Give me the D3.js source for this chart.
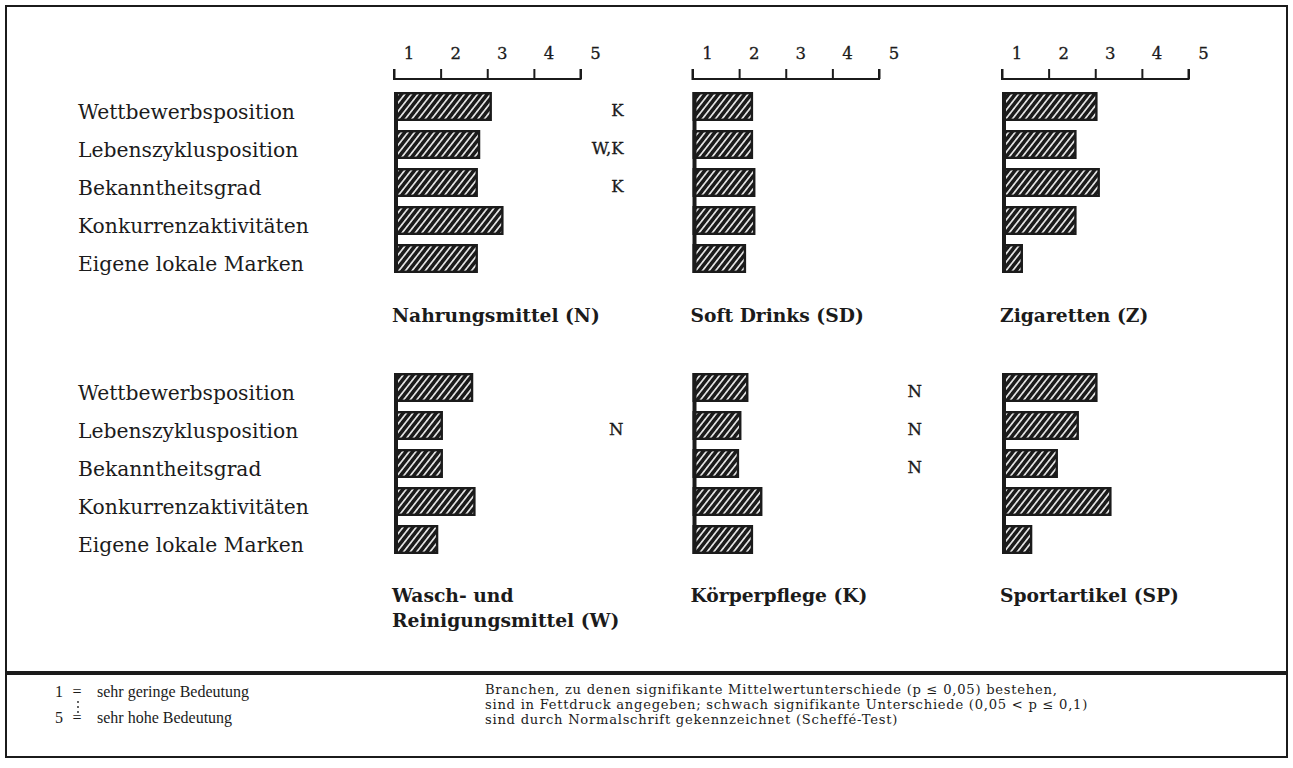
<!DOCTYPE html>
<html><head><meta charset="utf-8">
<script src="https://cdn.jsdelivr.net/npm/d3@7"></script>
<style>body{margin:0;background:#fff}svg{display:block}</style>
</head><body><svg id="c" width="1293" height="768"></svg>
<script>
const categories = ["Wettbewerbsposition","Lebenszyklusposition","Bekanntheitsgrad","Konkurrenzaktivitäten","Eigene lokale Marken"];
const tickValues = [1,2,3,4,5];
const tickLabels = ["1","2","3","4","5"];
const panelTitles = [["Nahrungsmittel (N)"],["Soft Drinks (SD)"],["Zigaretten (Z)"],["Wasch- und","Reinigungsmittel (W)"],["Körperpflege (K)"],["Sportartikel (SP)"]];
const valuesN  = [3.1, 2.85, 2.8, 3.35, 2.8];
const valuesSD = [2.3, 2.3, 2.35, 2.35, 2.15];
const valuesZ  = [3.05, 2.6, 3.1, 2.6, 1.45];
const valuesW  = [2.7, 2.05, 2.05, 2.75, 1.95];
const valuesK  = [2.2, 2.05, 2.0, 2.5, 2.3];
const valuesSP = [3.05, 2.65, 2.2, 3.35, 1.65];
const signifN  = ["K","W,K","K","",""];
const signifSD = ["","","","",""];
const signifZ  = ["","","","",""];
const signifW  = ["","N","","",""];
const signifK  = ["N","N","N","",""];
const signifSP = ["","","","",""];
const legendLeft = ["1  =  sehr geringe Bedeutung","5  =  sehr hohe Bedeutung"];
const legendRight = ["Branchen, zu denen signifikante Mittelwertunterschiede (p ≤ 0,05) bestehen,",
  "sind in Fettdruck angegeben; schwach signifikante Unterschiede (0,05 < p ≤ 0,1)",
  "sind durch Normalschrift gekennzeichnet (Scheffé-Test)"];

const panels = [
  {vals: valuesN, sig: signifN, title: panelTitles[0], col:0, row:0},
  {vals: valuesSD, sig: signifSD, title: panelTitles[1], col:1, row:0},
  {vals: valuesZ, sig: signifZ, title: panelTitles[2], col:2, row:0},
  {vals: valuesW, sig: signifW, title: panelTitles[3], col:0, row:1},
  {vals: valuesK, sig: signifK, title: panelTitles[4], col:1, row:1},
  {vals: valuesSP, sig: signifSP, title: panelTitles[5], col:2, row:1}
];

const ink = "#1b1b1b";
const svg = d3.select("#c");
const serif = "'DejaVu Serif', serif";

// hatch pattern
const defs = svg.append("defs");
const pat = defs.append("pattern").attr("id","hatch").attr("patternUnits","userSpaceOnUse")
  .attr("width",5.2).attr("height",10).attr("patternTransform","rotate(38)");
pat.append("rect").attr("width",5.2).attr("height",10).attr("fill",ink);
pat.append("line").attr("x1",2.6).attr("x2",2.6).attr("y1",0).attr("y2",10)
  .attr("stroke","#fff").attr("stroke-width",1.5);

// frame
svg.append("rect").attr("x",6).attr("y",6).attr("width",1281).attr("height",751)
  .attr("fill","none").attr("stroke",ink).attr("stroke-width",2);
svg.append("line").attr("x1",6).attr("x2",1287).attr("y1",673).attr("y2",673)
  .attr("stroke",ink).attr("stroke-width",4);

const colX0 = [394, 692.5, 1002];
const rowY0 = [92, 373];
const step = 38, pad = 9/38;

// category labels
[0,1].forEach(r => {
  const y = d3.scaleBand().domain(categories).range([rowY0[r], rowY0[r] + step*(5-pad)]).paddingInner(pad).paddingOuter(0);
  svg.append("g").selectAll("text").data(categories).join("text")
    .attr("x",78).attr("y",d => y(d) + y.bandwidth()/2 + 12)
    .attr("font-family",serif).attr("font-size",20.3).attr("fill",ink).text(d=>d);
});

panels.forEach(p => {
  const x0 = colX0[p.col];
  const x = d3.scaleLinear().domain([1,5]).range([x0, x0 + 186.5]);
  const y = d3.scaleBand().domain(categories).range([rowY0[p.row], rowY0[p.row] + step*(5-pad)]).paddingInner(pad).paddingOuter(0);
  const g = svg.append("g");
  if (p.row === 0) {
    const ax = g.append("g").attr("transform","translate(0,79)")
      .call(d3.axisTop(x).tickValues(tickValues).tickSize(10).tickFormat(""));
    ax.select(".domain").attr("stroke",ink).attr("stroke-width",2).attr("d",`M${x(1)},-10V0H${x(5)}V-10`);
    ax.selectAll(".tick line").attr("stroke",ink).attr("stroke-width",2);
    g.append("g").selectAll("text").data(tickValues).join("text")
      .attr("x",(d)=>x(d)+15).attr("y",58.5).attr("text-anchor","middle")
      .attr("font-family",serif).attr("font-size",16.5).attr("stroke",ink).attr("stroke-width",0.3)
      .attr("fill",ink).text((d,i)=>tickLabels[i]);
  }
  g.append("g").selectAll("rect").data(p.vals).join("rect")
    .attr("x", x(1)+1.2).attr("y",(d,i)=>y(categories[i])+1.2)
    .attr("width",d => x(d)-x(1)-2.4).attr("height",y.bandwidth()-2.4)
    .attr("fill","url(#hatch)").attr("stroke",ink).attr("stroke-width",2.4);
  g.append("line").attr("x1",x(1)+2).attr("x2",x(1)+2)
    .attr("y1",y(categories[0])).attr("y2",y(categories[4])+y.bandwidth())
    .attr("stroke",ink).attr("stroke-width",4);
  g.append("g").selectAll("text").data(p.sig).join("text")
    .attr("x",x(5)+43).attr("y",(d,i)=>y(categories[i])+y.bandwidth()/2+9.5)
    .attr("text-anchor","end").attr("font-family",serif).attr("font-size",16.5)
    .attr("stroke",ink).attr("stroke-width",0.3).attr("fill",ink).text(d=>d);
  const ty = p.row === 0 ? 322 : 602;
  g.append("g").selectAll("text").data(p.title).join("text")
    .attr("x",x(1)-2).attr("y",(d,i)=>ty + i*25)
    .attr("font-family",serif).attr("font-weight","bold").attr("font-size",18.7).attr("fill",ink).text(d=>d);
});

// legend
const lf = "'Liberation Serif', serif";
const lg = svg.append("g").attr("font-family",lf).attr("font-size",16).attr("fill",ink);
[697, 723].forEach((yy,i) => {
  const parts = legendLeft[i].split(/\s{2}=\s{2}/);
  lg.append("text").attr("x",55).attr("y",yy).text(parts[0]);
  lg.append("text").attr("x",77).attr("y",yy).attr("text-anchor","middle").text("=");
  lg.append("text").attr("x",97).attr("y",yy).text(parts[1]);
});
svg.append("g").selectAll("circle").data([702, 707, 712]).join("circle")
  .attr("cx",78).attr("cy",d=>d).attr("r",0.9).attr("fill",ink);
lg.selectAll("text.r").data(legendRight).join("text").attr("class","r")
  .attr("x",485).attr("y",(d,i)=>694 + i*15.2)
  .attr("font-family",serif).attr("font-size",13.1).attr("letter-spacing",0.75).text(d=>d);
</script></body></html>
